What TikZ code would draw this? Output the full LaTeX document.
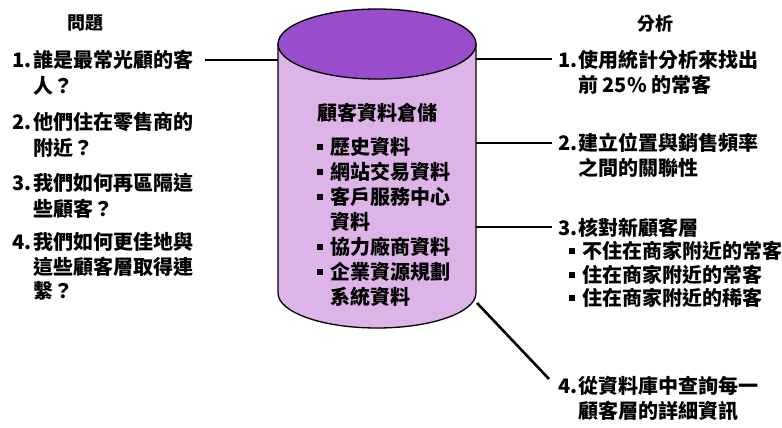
\documentclass[tikz,border=0pt]{standalone}
\usepackage{fontspec}
\newfontfamily\cjk{Noto Sans CJK TC}
\definecolor{cyltop}{RGB}{153,76,204}
\definecolor{cylside}{RGB}{221,180,232}
\newcommand\sqb{\rule[4.9pt]{5.5pt}{5.5pt}}
\begin{document}
\begin{tikzpicture}[x=1pt,y=-1pt,
  txt/.style={anchor=base west, inner sep=0pt, font=\cjk\bfseries\fontsize{20}{24}\selectfont},
  head/.style={anchor=base, inner sep=0pt, font=\cjk\bfseries\fontsize{18}{22}\selectfont},
  conn/.style={line width=2.6pt},
  cyl/.style={draw=black, line width=1.3pt}]
\useasboundingbox (0,0) rectangle (782,428);

% cylinder
\coordinate (cc) at (377,44);
\fill[cylside] (278,44) -- (278,293) arc (180:0:99 and 35) -- (476,44) -- cycle;
\draw[cyl] (278,44) -- (278,293) arc (180:0:99 and 35) -- (476,44);
\draw[cyl, fill=cyltop] (cc) ellipse [x radius=99, y radius=35];

% cylinder text
\node[head, font=\cjk\bfseries\fontsize{20}{24}\selectfont] (ctitle) at (377,120.6) {顧客資料倉儲};
\node[txt] (c1)  at (317,154.6) {\sqb\hspace{7.5pt}歷史資料};
\node[txt] (c2)  at (317,179.6) {\sqb\hspace{7.5pt}網站交易資料};
\node[txt] (c3)  at (317,204.6) {\sqb\hspace{7.5pt}客戶服務中心};
\node[txt] (c3b) at (330,229.6) {資料};
\node[txt] (c4)  at (317,254.6) {\sqb\hspace{7.5pt}協力廠商資料};
\node[txt] (c5)  at (317,279.6) {\sqb\hspace{7.5pt}企業資源規劃};
\node[txt] (c5b) at (330,304.6) {系統資料};

% left column
\node[head] (hq) at (85,30) {問題};
\node[txt] (q1a) at (12,67.6)  {\makebox[21pt][l]{1.}誰是最常光顧的客};
\node[txt] (q1b) at (33,93.6)  {人？};
\node[txt] (q2a) at (12,129.6) {\makebox[21pt][l]{2.}他們住在零售商的};
\node[txt] (q2b) at (33,155.6) {附近？};
\node[txt] (q3a) at (12,190.6) {\makebox[21pt][l]{3.}我們如何再區隔這};
\node[txt] (q3b) at (33,216.6) {些顧客？};
\node[txt] (q4a) at (12,249.6) {\makebox[21pt][l]{4.}我們如何更佳地與};
\node[txt] (q4b) at (33,274.6) {這些顧客層取得連};
\node[txt] (q4c) at (33,298.6) {繫？};

% right column
\node[head] (ha) at (655,31) {分析};
\node[txt] (a1a) at (558,67.6)  {\makebox[20pt][l]{1.}使用統計分析來找出};
\node[txt] (a1b) at (578,92.6)  {前 25\% 的常客};
\node[txt] (a2a) at (558,150.6) {\makebox[20pt][l]{2.}建立位置與銷售頻率};
\node[txt] (a2b) at (578,175.6) {之間的關聯性};
\node[txt] (a3a) at (558,235.6) {\makebox[20pt][l]{3.}核對新顧客層};
\node[txt] (a3b) at (569,258.6) {\sqb\hspace{7.5pt}不住在商家附近的常客};
\node[txt] (a3c) at (569,282.6) {\sqb\hspace{7.5pt}住在商家附近的常客};
\node[txt] (a3d) at (569,305.6) {\sqb\hspace{7.5pt}住在商家附近的稀客};
\node[txt] (a4a) at (558,393.6) {\makebox[20pt][l]{4.}從資料庫中查詢每一};
\node[txt] (a4b) at (578,418.6) {顧客層的詳細資訊};

% connector end points
\coordinate (cylq) at (278,60);
\coordinate (endq) at (205,60);
\coordinate (cyla1) at (476,59);
\coordinate (enda1) at (552,59);
\coordinate (cyla2) at (476,143);
\coordinate (enda2) at (552,143);
\coordinate (cyla3) at (476,227);
\coordinate (enda3) at (552,227);
\coordinate (cyla4) at (477,303);
\coordinate (enda4) at (549,379);

\draw[conn] (endq) -- (cylq);
\draw[conn] (cyla1) -- (enda1);
\draw[conn] (cyla2) -- (enda2);
\draw[conn] (cyla3) -- (enda3);
\draw[conn] (cyla4) -- (enda4);
\end{tikzpicture}
\end{document}
